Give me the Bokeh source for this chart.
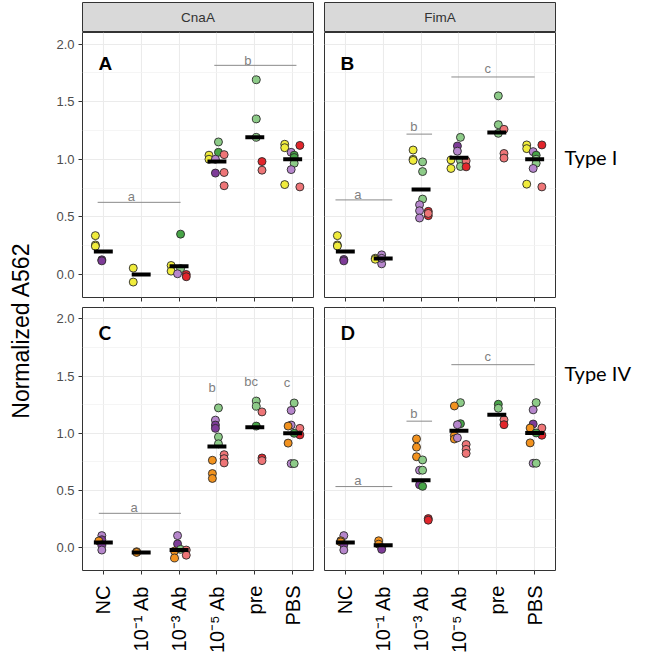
import numpy as np
from bokeh.plotting import figure
from bokeh.models import (Range1d, FixedTicker, Grid, Label, Spacer, ColumnDataSource,
                          CustomLabelingPolicy)
from bokeh.layouts import row, column
from bokeh.embed import file_html
from bokeh.resources import INLINE
from bokeh.core.properties import value

try:
    from bokeh.models import GlobalInlineStyleSheet
    SHEETS = [GlobalInlineStyleSheet(css="html, body { margin: 0; padding: 0; overflow: hidden; }")]
except Exception:
    SHEETS = []

# ---------------- data ----------------
categories = ["NC", "10\u207b\u00b9 Ab", "10\u207b\u00b3 Ab", "10\u207b\u2075 Ab", "pre", "PBS"]
strip_labels = ["CnaA", "FimA"]
row_labels = ["Type I", "Type IV"]
y_ticks = [0.0, 0.5, 1.0, 1.5, 2.0]
y_tick_labels = ["0.0", "0.5", "1.0", "1.5", "2.0"]

# Panel A (CnaA, Type I)
A_cat = [0, 0, 0, 0, 0, 1, 1, 2, 2, 2, 2, 2, 2, 2,
         3, 3, 3, 3, 3, 3, 3, 3, 3, 4, 4, 4, 4, 4,
         5, 5, 5, 5, 5, 5, 5, 5, 5, 5]
A_val = [0.337, 0.256, 0.245, 0.127, 0.118, 0.055, -0.066,
         0.350, 0.078, 0.029, 0.050, 0.006, 0.000, -0.020,
         1.150, 1.060, 1.035, 1.000, 1.040, 1.000, 0.880, 0.885, 0.770,
         1.690, 1.350, 1.190, 0.980, 0.905,
         1.130, 1.100, 1.120, 1.060, 1.035, 1.015, 0.965, 0.910, 0.780, 0.760]
A_col = ["Y", "Y", "Y", "PD", "PD", "Y", "Y",
         "GD", "Y", "Y", "GL", "PL", "RD", "RD",
         "GL", "GD", "Y", "Y", "RL", "PL", "PD", "RL", "RL",
         "GL", "GL", "GL", "RD", "RL",
         "Y", "Y", "RD", "PL", "GD", "GD", "GL", "PL", "Y", "RL"]
A_median = [0.20, 0.00, 0.072, 0.98, 1.19, 1.00]
A_sig_x0 = [0.85, 3.93]
A_sig_x1 = [3.04, 6.10]
A_sig_y = [0.626, 1.815]
A_sig_text = ["a", "b"]
A_sig_tx = [1.74, 4.82]
A_sig_ty = [0.675, 1.86]

# Panel B (FimA, Type I)
B_cat = [0, 0, 0, 0, 0, 1, 1, 1, 1, 1,
         2, 2, 2, 2, 2, 2, 2, 2, 2, 2, 2, 2,
         3, 3, 3, 3, 3, 3, 3, 3, 3,
         4, 4, 4, 4, 4, 4,
         5, 5, 5, 5, 5, 5, 5, 5, 5, 5]
B_val = [0.337, 0.256, 0.247, 0.130, 0.118, 0.141, 0.132, 0.170, 0.092, 0.140,
         1.080, 1.000, 0.990, 0.977, 0.893, 0.654, 0.605, 0.553, 0.490, 0.548, 0.510, 0.530,
         1.190, 1.115, 1.070, 0.994, 0.920, 0.990, 0.937, 0.986, 0.934,
         1.550, 1.300, 1.225, 1.260, 1.050, 1.010,
         1.124, 1.092, 1.066, 1.124, 1.035, 1.000, 0.965, 0.920, 0.784, 0.760]
B_col = ["Y", "Y", "Y", "PD", "PD", "Y", "Y", "PL", "PL", "PL",
         "Y", "Y", "Y", "GL", "GL", "GL", "PL", "PL", "PL", "RD", "RD", "RL",
         "GL", "PD", "PL", "Y", "Y", "GL", "GL", "RL", "RD",
         "GL", "GL", "GL", "RL", "RL", "RL",
         "Y", "Y", "PL", "RD", "GD", "GL", "GL", "PL", "Y", "RL"]
B_median = [0.20, 0.138, 0.738, 1.014, 1.233, 1.00]
B_sig_x0 = [0.74, 2.615, 3.80]
B_sig_x1 = [2.24, 3.29, 6.00]
B_sig_y = [0.647, 1.218, 1.714]
B_sig_text = ["a", "b", "c"]
B_sig_tx = [1.33, 2.81, 4.76]
B_sig_ty = [0.69, 1.284, 1.786]

# Panel C (CnaA, Type IV)
C_cat = [0, 0, 0, 0, 0, 1, 1, 2, 2, 2, 2, 2, 2, 2,
         3, 3, 3, 3, 3, 3, 3, 3, 3, 3, 3, 3,
         4, 4, 4, 4, 4, 4,
         5, 5, 5, 5, 5, 5, 5, 5, 5, 5]
C_val = [0.105, 0.069, 0.058, 0.024, -0.021, -0.036, -0.042,
         0.105, 0.033, -0.030, -0.090, -0.015, -0.021, -0.066,
         1.222, 1.115, 1.072, 1.043, 0.968, 0.908, 0.764, 0.648, 0.605, 0.813, 0.778, 0.741,
         1.282, 1.236, 1.187, 1.063, 0.784, 0.761,
         1.265, 1.200, 1.072, 1.063, 0.914, 1.043, 0.986, 1.000, 0.735, 0.735]
C_col = ["PL", "PD", "O", "PD", "PL", "O", "O",
         "PL", "PD", "O", "O", "GL", "RL", "RL",
         "GL", "PL", "PD", "PD", "GL", "GL", "O", "O", "O", "RL", "RL", "RL",
         "GL", "GL", "RL", "GD", "RD", "RL",
         "GL", "PL", "PL", "O", "O", "RL", "RD", "GD", "PL", "GL"]
C_median = [0.045, -0.042, -0.021, 0.885, 1.052, 1.00]
C_sig_x0 = [0.88]
C_sig_x1 = [3.05]
C_sig_y = [0.30]
C_sig_text = ["a", "b", "bc", "c"]
C_sig_tx = [1.81, 3.87, 4.90, 5.85]
C_sig_ty = [0.35, 1.40, 1.45, 1.445]

# Panel D (FimA, Type IV)
D_cat = [0, 0, 0, 0, 0, 1, 1, 1, 1,
         2, 2, 2, 2, 2, 2, 2, 2, 2, 2,
         3, 3, 3, 3, 3, 3, 3, 3, 3, 3,
         4, 4, 4, 4,
         5, 5, 5, 5, 5, 5, 5, 5, 5, 5]
D_val = [0.105, 0.060, 0.050, 0.024, -0.021, 0.060, 0.030, 0.000, -0.015,
         0.951, 0.879, 0.795, 0.767, 0.677, 0.677, 0.550, 0.536, 0.254, 0.240,
         1.268, 1.239, 1.084, 1.075, 0.980, 0.950, 0.960, 0.902, 0.859, 0.824,
         1.254, 1.219, 1.118, 1.075,
         1.268, 1.205, 1.081, 1.046, 0.916, 1.046, 0.983, 1.003, 0.738, 0.738]
D_col = ["PL", "O", "O", "PD", "PL", "O", "O", "PL", "PD",
         "O", "O", "O", "GL", "PL", "GL", "PD", "GD", "RD", "RD",
         "GL", "O", "GD", "PL", "O", "O", "PL", "RL", "RL", "RL",
         "GD", "GL", "RL", "RD",
         "GL", "PL", "PD", "O", "O", "RL", "RD", "GD", "PL", "GL"]
D_median = [0.045, 0.021, 0.59, 1.023, 1.161, 1.003]
D_sig_x0 = [0.74, 2.615, 3.80]
D_sig_x1 = [2.24, 3.29, 6.00]
D_sig_y = [0.534, 1.106, 1.60]
D_sig_text = ["a", "b", "c"]
D_sig_tx = [1.33, 2.81, 4.76]
D_sig_ty = [0.584, 1.17, 1.67]

# ---------------- styles ----------------
PAL = {"Y": "#F0EC3C", "PL": "#B686CC", "PD": "#7E3B98", "GL": "#8DCB88", "GD": "#47A447",
       "RL": "#EE7577", "RD": "#E2252B", "O": "#F2921E"}
DODGE = {"Y": -0.21, "O": -0.12, "PL": -0.04, "PD": -0.04, "GL": 0.04, "GD": 0.04,
         "RL": 0.19, "RD": 0.19}
BORDER = "#333333"
XR = (0.45, 6.55)
YR = (-0.2, 2.1)

HIDE_LABELS = """
for (let i = 0; i < indices.size; i++) { indices.unset(i) }
return indices
"""


def clear_grids(p):
    p.center = [r for r in p.center if not isinstance(r, Grid)]


def panel(cat, val, col, med, sx0, sx1, sy, st, stx, sty, letter, letter_y, letter_font,
          left_axis, bottom_labels, width, height, mbl, mbr, mbt, mbb):
    p = figure(width=width, height=height, x_range=Range1d(*XR), y_range=Range1d(*YR),
               output_backend="svg", toolbar_location=None,
               x_axis_location="below", y_axis_location=("left" if left_axis else None),
               min_border=0, min_border_left=mbl, min_border_right=mbr,
               min_border_top=mbt, min_border_bottom=mbb)
    clear_grids(p)
    p.add_layout(Grid(dimension=0, ticker=FixedTicker(ticks=[1, 2, 3, 4, 5, 6]),
                      grid_line_color="#EBEBEB", grid_line_width=1.1))
    p.add_layout(Grid(dimension=1,
                      ticker=FixedTicker(ticks=y_ticks, minor_ticks=[0.25, 0.75, 1.25, 1.75]),
                      grid_line_color="#EBEBEB", grid_line_width=1.1,
                      minor_grid_line_color="#F3F3F3", minor_grid_line_width=0.8))
    p.outline_line_color = BORDER
    p.outline_line_width = 1
    p.background_fill_color = "white"
    p.border_fill_color = "white"

    xa = p.xaxis[0]
    xa.ticker = FixedTicker(ticks=[1, 2, 3, 4, 5, 6])
    xa.major_label_overrides = {i + 1: c for i, c in enumerate(categories)}
    xa.axis_line_color = None
    xa.major_tick_line_color = BORDER
    xa.major_tick_out = 4
    xa.major_tick_in = 0
    xa.minor_tick_line_color = None
    xa.major_label_text_font = "Liberation Sans"
    xa.major_label_text_color = "black"
    if bottom_labels:
        xa.major_label_text_font_size = "20px"
        xa.major_label_orientation = np.pi / 2
        xa.major_label_standoff = 11
    else:
        # ticks only, as in the facet's upper row (labels filtered out)
        xa.major_label_text_font_size = "1px"
        xa.major_label_policy = CustomLabelingPolicy(code=HIDE_LABELS)
        xa.major_label_standoff = 0

    if left_axis:
        ya = p.yaxis[0]
        ya.ticker = FixedTicker(ticks=y_ticks)
        ya.major_label_overrides = {t: s for t, s in zip(y_ticks, y_tick_labels)}
        ya.axis_line_color = None
        ya.major_tick_line_color = BORDER
        ya.major_tick_out = 4
        ya.major_tick_in = 0
        ya.minor_tick_line_color = None
        ya.major_label_text_font = "Liberation Sans"
        ya.major_label_text_font_size = "13px"
        ya.major_label_text_color = "#4D4D4D"
        ya.major_label_standoff = 4

    # significance bars and letters
    p.segment(x0=sx0, x1=sx1, y0=sy, y1=sy, line_color="#8A8A8A", line_width=1)
    p.text(x=stx, y=sty, text=st, text_font=value("Liberation Sans"), text_font_size="13px",
           text_color="#7F7F7F", text_align="center", text_baseline="alphabetic")

    # points, dodged by colour group
    xs = [c + 1 + DODGE[k] for c, k in zip(cat, col)]
    src = ColumnDataSource(dict(x=xs, y=val, fill=[PAL[k] for k in col]))
    p.scatter("x", "y", source=src, marker="circle", size=8, fill_color="fill",
              fill_alpha=1.0, line_color="#2A2A2A", line_width=0.9)

    # medians
    mx = [i + 1 for i in range(len(med))]
    p.segment(x0=[m - 0.25 for m in mx], x1=[m + 0.25 for m in mx], y0=med, y1=med,
              line_color="black", line_width=4, line_cap="butt")

    p.add_layout(Label(x=0.87, y=letter_y, text=letter, text_font=letter_font,
                       text_font_size="19px", text_font_style="bold", text_color="black",
                       text_align="left", text_baseline="alphabetic"))
    return p


def strip(text, width, mbl, mbr):
    s = figure(width=width, height=32, x_range=Range1d(0, 1), y_range=Range1d(0, 1),
               output_backend="svg", toolbar_location=None,
               x_axis_location=None, y_axis_location=None,
               min_border=0, min_border_left=mbl, min_border_right=mbr,
               min_border_top=2, min_border_bottom=1)
    clear_grids(s)
    s.background_fill_color = "#D9D9D9"
    s.border_fill_color = "white"
    s.outline_line_color = BORDER
    s.add_layout(Label(x=0.5, y=0.5, text=text, text_align="center", text_baseline="middle",
                       text_font="Liberation Sans", text_font_size="13.5px", text_color="#333333"))
    return s


def blank(width, height):
    b = figure(width=width, height=height, x_range=Range1d(0, width), y_range=Range1d(0, height),
               output_backend="svg", toolbar_location=None,
               x_axis_location=None, y_axis_location=None,
               min_border=0, min_border_left=0, min_border_right=0,
               min_border_top=0, min_border_bottom=0)
    clear_grids(b)
    b.outline_line_color = None
    b.background_fill_color = "white"
    b.border_fill_color = "white"
    return b


# geometry
W_LAB = 40
W_A, MBL_A, MBR_A = 278, 42, 5
W_B, MBL_B, MBR_B = 242, 6, 5
W_R = 90
H_STRIP, H_TOP, H_BOT = 32, 273, 351
H_ALL = H_STRIP + H_TOP + H_BOT

pA = panel(A_cat, A_val, A_col, A_median, A_sig_x0, A_sig_x1, A_sig_y, A_sig_text, A_sig_tx, A_sig_ty,
           "A", 1.835, "Liberation Sans", True, False, W_A, H_TOP, MBL_A, MBR_A, 0, 8)
pB = panel(B_cat, B_val, B_col, B_median, B_sig_x0, B_sig_x1, B_sig_y, B_sig_text, B_sig_tx, B_sig_ty,
           "B", 1.835, "Liberation Sans", False, False, W_B, H_TOP, MBL_B, MBR_B, 0, 8)
pC = panel(C_cat, C_val, C_col, C_median, C_sig_x0, C_sig_x1, C_sig_y, C_sig_text, C_sig_tx, C_sig_ty,
           "C", 1.88, "Lato", True, True, W_A, H_BOT, MBL_A, MBR_A, 2, 82)
pD = panel(D_cat, D_val, D_col, D_median, D_sig_x0, D_sig_x1, D_sig_y, D_sig_text, D_sig_tx, D_sig_ty,
           "D", 1.88, "Lato", False, True, W_B, H_BOT, MBL_B, MBR_B, 2, 82)

sA = strip(strip_labels[0], W_A, MBL_A, MBR_A)
sB = strip(strip_labels[1], W_B, MBL_B, MBR_B)

fY = blank(W_LAB, H_ALL)
fY.add_layout(Label(x=20, y=H_ALL - 330, text="Normalized A562", angle=np.pi / 2,
                    text_align="center", text_baseline="middle", text_font="Liberation Sans",
                    text_font_size="23px", text_color="black"))

r1 = blank(W_R, H_TOP)
r1.add_layout(Label(x=4, y=H_TOP - (160 - H_STRIP), text=row_labels[0], text_align="left",
                    text_baseline="middle", text_font="Lato", text_font_size="20px",
                    text_color="black"))
r2 = blank(W_R, H_BOT)
r2.add_layout(Label(x=4, y=H_BOT - (392 - H_STRIP - H_TOP), text=row_labels[1], text_align="left",
                    text_baseline="middle", text_font="Lato", text_font_size="20px",
                    text_color="black"))

top = row(sA, sB, Spacer(width=W_R, height=H_STRIP))
mid = row(pA, pB, r1)
bot = row(pC, pD, r2)
root = row(fY, column(top, mid, bot), stylesheets=SHEETS)

open("out.html", "w").write(file_html(root, INLINE, title="Normalized A562"))
